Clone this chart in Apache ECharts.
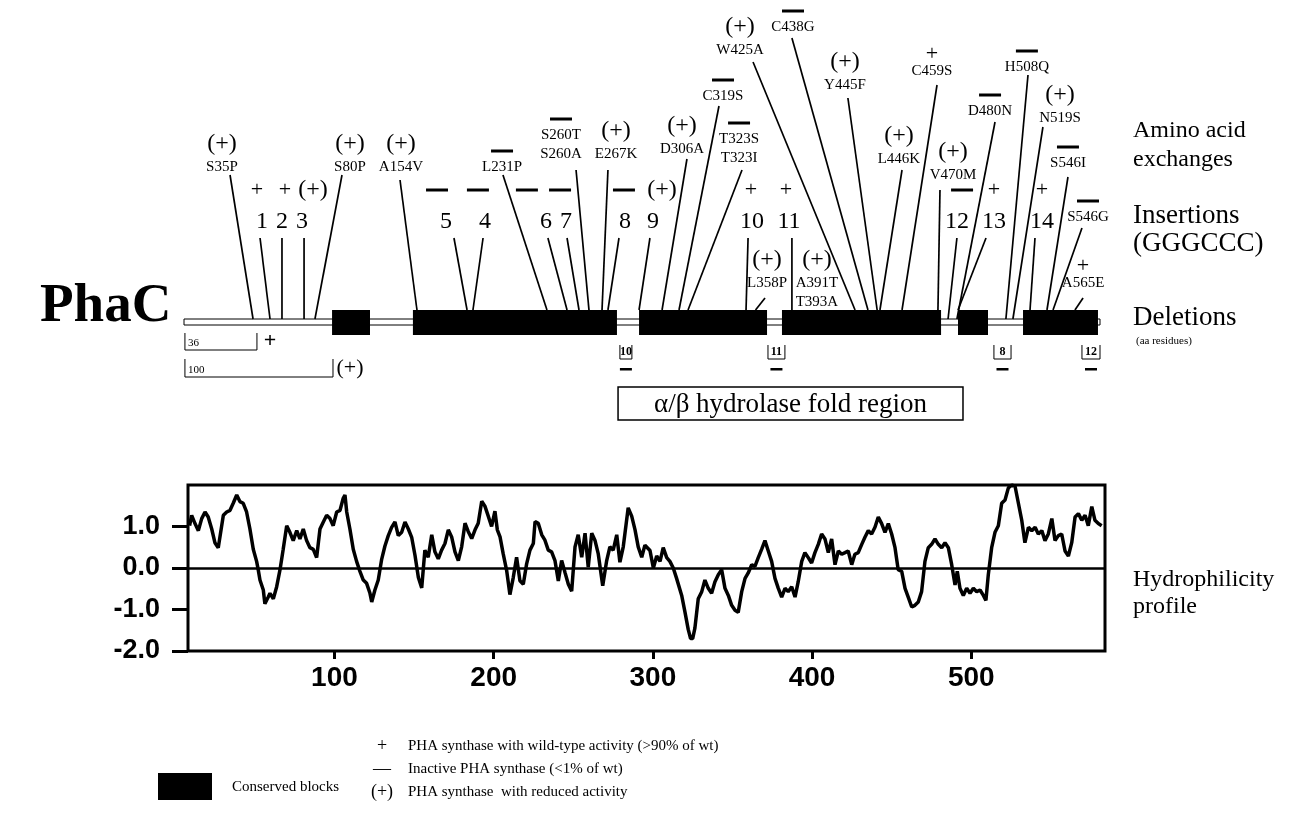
<!DOCTYPE html>
<html><head><meta charset="utf-8">
<script src="https://cdn.jsdelivr.net/npm/echarts@6/dist/echarts.min.js"></script>
<style>html,body{margin:0;padding:0;background:#fff}#c{width:1292px;height:832px}</style>
</head><body><div id="c"></div>
<script>
// ---------------- DATA ----------------
// Hydrophilicity profile (residue, value)
const profileRes = [9,10.3,12.4,14.5,16.6,18.7,20.7,22.9,24.9,27,28.1,30.2,32.3,34.4,36.4,38.6,40.6,42.7,44.8,46.9,49,51.1,52.1,53.2,55.3,56.3,58.4,59.5,61.6,63.7,65.8,67.8,70,72,74.1,76.3,78.3,80.4,82.5,84.6,86.7,88.8,90.9,93,95.1,97.2,99.2,101.4,103.5,105.5,106.6,107.7,109.7,111.8,113.9,116,118.1,120.2,122.3,123.4,125.4,127.5,129.6,131.7,133.8,135.9,138,140.1,142.2,144.3,146.4,148.5,150.6,152.7,154.8,156.8,158.9,161.1,163.1,165.2,167.3,169.4,171.5,173.6,175.7,177.8,179.9,182,184,186.2,188.3,190.3,192.5,194.5,196.6,198.7,200.8,202.3,204,206,208.2,210.2,212.3,214.4,216.5,218.6,220.7,222.8,224.9,226,228,230.2,232.2,234.3,236.4,238.5,240.6,242.7,244.8,246.9,249,251.1,253.1,255.3,257.4,259.4,261.6,263.6,265.7,268.5,271,273,275.1,277.3,279.3,281.4,284.5,286.7,288.8,290.8,293,295,298.2,300.3,302.4,304.5,306.5,308.7,310.7,312.8,314.9,318.1,320.2,322.2,323.7,325,326.4,328.5,330.7,332.7,334.8,336.9,339,341.1,343.2,345.3,347.4,349.5,351.6,353.6,355.8,357.9,359.9,362.1,364.1,366.2,368.3,370.4,372.5,374.6,376.7,378.8,380.9,383,385,387.2,389.3,391.3,393.5,395.5,397.6,399.7,401.8,403.9,406,408.1,410.2,412.3,414.4,416.5,418.6,420.7,422.7,424.9,426.9,429,431.2,433.2,435.3,437.4,439.5,441.6,443.7,445.8,447.9,450,452.1,454.1,456.3,458.4,460.4,462.6,464.6,466.7,468.8,470.9,473,475.1,477.2,479.3,481.4,483.5,485.6,487.7,489.8,491.2,492.9,495,497.1,499.2,501.3,503.4,505.5,507.6,509.2,510.7,512.8,514.9,517,519.1,521.2,523.3,525.4,527.5,529.6,531.7,533.7,535.9,538,540.1,542.1,544.3,546.3,548.4,550.6,552.6,554.7,556.8,558.9,561,563.1,565.2,567.3,569.4,571.5,573.5,575.7,577.7,579.8,581.9];
const profileVal = [1.02,1.27,1.07,0.9,1.19,1.35,1.23,0.94,0.61,0.49,0.53,1.27,1.35,1.39,1.56,1.76,1.6,1.56,1.35,0.94,0.45,0.16,-0.04,-0.29,-0.53,-0.86,-0.7,-0.61,-0.74,-0.45,-0.04,0.45,1.02,0.86,0.66,0.9,0.7,0.94,0.66,0.49,0.45,0.25,0.94,1.11,1.27,1.19,1.02,1.35,1.39,1.68,1.76,1.35,0.94,0.45,0.16,-0.08,-0.29,-0.37,-0.61,-0.82,-0.53,-0.29,0.2,0.53,0.78,0.98,1.11,0.78,0.86,1.11,0.94,0.74,0.3,-0.23,-0.48,0.43,0.26,0.8,0.39,0.22,0.43,0.59,0.92,0.75,0.39,0.18,0.51,1.08,0.88,0.71,0.92,1.08,1.61,1.49,1.25,1.0,1.37,0.92,0.75,0.34,-0.07,-0.64,-0.23,0.26,-0.31,-0.39,0.1,0.43,0.59,1.12,1.08,0.8,0.67,0.43,0.39,0.18,-0.31,0.18,-0.11,-0.39,-0.56,0.51,0.8,0.26,0.84,0.02,0.84,0.67,0.34,-0.43,0.18,0.51,0.43,0.8,0.14,0.51,1.45,1.25,0.92,0.51,0.26,0.55,0.42,0,0.29,0.16,0.49,0.25,0.16,0,-0.25,-0.66,-1.07,-1.48,-1.7,-1.7,-1.45,-0.74,-0.57,-0.29,-0.49,-0.61,-0.33,-0.16,-0.04,-0.49,-0.66,-0.9,-1.02,-1.07,-0.57,-0.25,-0.12,0.08,0.04,0.25,0.45,0.66,0.41,0.16,-0.25,-0.49,-0.7,-0.49,-0.57,-0.45,-0.7,-0.33,0.16,0.37,0.25,0.12,0.37,0.57,0.82,0.7,0.37,0.7,0.08,0.41,0.33,0.37,0.41,0.08,0.33,0.37,0.57,0.74,0.9,0.82,0.98,1.23,1.07,0.86,1.07,0.82,0.49,-0.04,-0.08,-0.49,-0.7,-0.94,-0.9,-0.82,-0.57,0.16,0.49,0.57,0.7,0.57,0.49,0.61,0.49,0.08,-0.41,-0.08,-0.49,-0.66,-0.49,-0.61,-0.49,-0.57,-0.53,-0.66,-0.78,-0.16,0.49,0.86,1.02,1.56,1.64,1.93,2.0,1.97,1.56,1.15,0.61,0.98,0.9,0.98,0.82,0.9,0.66,0.82,1.19,0.66,0.78,0.82,0.41,0.29,0.61,1.23,1.31,1.15,1.27,1.02,1.48,1.15,1.07,1.02];
const profileTicksX = [100, 200, 300, 400, 500];
const profileTicksY = [-2, -1, 0, 1];

// Gene map (map units along the PhaC schematic, 0..589)
const geneLength = 589;
const blockStart = [95.2, 147.2, 292.6, 384.5, 497.7, 539.5];
const blockEnd   = [119.6, 278.4, 374.9, 486.8, 517.0, 587.7];
const foldRegion = [279.1, 500.9];

// Amino acid exchanges
const aaNames    = ['S35P','S80P','A154V','L231P','S260T\nS260A','E267K','D306A','C319S','T323S\nT323I','L358P','A391T\nT393A','W425A','C438G','Y445F','C459S','L446K','V470M','D480N','H508Q','N519S','S546I','S546G','A565E'];
const aaActivity = ['(+)','(+)','(+)','—','—','(+)','(+)','—','—','(+)','(+)','(+)','—','(+)','+','(+)','(+)','—','—','(+)','—','—','+'];
const aaSite     = [44.4, 84.2, 149.8, 233.4, 260.4, 268.8, 307.4, 318.3, 324.1, 367.5, null, 431.5, 439.8, 445.7, 461.7, 447.5, 484.8, 497.0, 528.5, 533.0, 554.9, 558.8, 572.9];
const aaLabelX   = [24.4, 106.7, 139.5, 204.5, 242.4, 277.8, 320.2, 346.6, 356.9, 374.9, 407.0, 357.5, 391.6, 425.0, 481.0, 459.7, 494.5, 518.3, 542.0, 563.3, 568.4, 581.3, 578.1];
const aaLabelY   = [167, 167, 167, 167, 135, 154, 149, 96, 139, 283, 283, 50, 27, 85, 71, 159, 175, 111, 67, 118, 163, 217, 283];
const aaLineX    = [29.6, 101.6, 138.9, 205.1, 252.1, 272.6, 323.4, 344.0, 358.8, 373.6, null, 365.9, 390.9, 426.9, 484.2, 461.7, 486.1, 521.5, 542.7, 552.3, 568.4, 577.4, 578.1];
const aaLineY    = [175, 175, 180, 175, 170, 170, 159, 106, 170, 298, null, 62, 38, 98, 85, 170, 190, 122, 75, 127, 177, 228, 298];

// Insertions (GGGCCC)
const insNames    = ['1','2','3','5','4','6','7','8','9','10','11','12','13','14'];
const insActivity = ['+','+','(+)','—','—','—','—','—','(+)','+','+','—','+','+'];
const insSite     = [55.3, 63.0, 77.2, 182.0, 185.8, 246.3, 254.0, 272.6, 292.6, 361.4, 390.9, 491.3, 497.7, 544.0];
const insLabelX   = [50.2, 63.0, 75.9, 168.5, 193.5, 232.8, 245.6, 283.6, 301.6, 365.2, 389.0, 497.0, 520.8, 551.7];
const insSymX     = [46.9, 64.9, 82.9, 162.7, 189.0, 220.5, 241.8, 282.9, 307.4, 364.6, 387.1, 500.3, 520.8, 551.7];
const insLineX    = [48.9, 63.0, 77.2, 173.6, 192.3, 234.0, 246.3, 279.7, 299.6, 362.7, 390.9, 497.0, 515.7, 547.2];

// Deletions (aa residues)
const delNames    = ['10','11','8','12','36','100'];
const delActivity = ['—','—','—','—','+','(+)'];
const delFrom     = [280.3, 375.5, 520.8, 577.4, 0.6, 0.6];
const delTo       = [288.0, 386.4, 531.8, 589.0, 46.9, 95.8];

// Legend
const legendItems = [['+','PHA synthase with wild-type activity (>90% of wt)'],['—','Inactive PHA synthase (<1% of wt)'],['(+)','PHA synthase  with reduced activity']];

// ---------------- LAYOUT / STYLE ----------------
const SERIF = '"Liberation Serif","Times New Roman",serif';
const SANS = '"Liberation Sans",Arial,sans-serif';
const GENE_TOP = 310, GENE_BOT = 335, LINE_TOP = 319, LINE_BOT = 325;
function inBlock(u){ return blockStart.some((s,k)=> u >= s - 0.3 && u <= blockEnd[k] + 0.3); }
function siteY(u){ return inBlock(u) ? GENE_TOP : LINE_TOP; }
function symbolEl(kind, x, y, dash){
  if (kind === '—') return {type:'rect', shape:{x:x-dash/2, y:y-1.5, width:dash, height:3}, style:{fill:'#000'}};
  return {type:'text', x:x, y:y, style:{text:kind, fontFamily:SERIF, fontSize: kind === '+' ? 22 : 24, fill:'#000', align:'center', verticalAlign:'middle'}};
}
function txt(t, x, y, size, opt){
  return Object.assign({type:'text', x:x, y:y, style:{text:t, fontFamily:SERIF, fontSize:size, fill:'#000', align:'left', verticalAlign:'middle'}}, opt||{});
}

const chart = echarts.init(document.getElementById('c'), null, {renderer:'canvas'});

const graphics = [
  {type:'text', x:40, y:307, style:{text:'PhaC', fontFamily:SERIF, fontWeight:'bold', fontSize:55, fill:'#000', align:'left', verticalAlign:'middle'}},
  txt('Amino acid', 1133, 131, 24), txt('exchanges', 1133, 160, 24),
  txt('Insertions', 1133, 216, 27), txt('(GGGCCC)', 1133, 244, 27),
  txt('Deletions', 1133, 318, 27), txt('(aa residues)', 1136, 341, 11),
  txt('Hydrophilicity', 1133, 580, 24), txt('profile', 1133, 607, 24),
  {type:'rect', shape:{x:158, y:773, width:54, height:27}, style:{fill:'#000'}},
  txt('Conserved blocks', 232, 787, 15)
];
legendItems.forEach((it, k) => {
  const y = 746 + k * 23;
  graphics.push({type:'text', x:382, y:y, style:{text:it[0], fontFamily:SERIF, fontSize:18, fill:'#000', align:'center', verticalAlign:'middle'}});
  graphics.push(txt(it[1], 408, y, 15));
});

const option = {
  animation: false,
  backgroundColor: '#fff',
  graphic: graphics,
  grid: [
    {left:188, right:187, top:485, bottom:181, show:true, borderColor:'#000', borderWidth:3, backgroundColor:'transparent'},
    {left:184, width:916, top:0, height:420, show:false}
  ],
  xAxis: [
    {type:'value', gridIndex:0, min:8, max:584, axisLine:{show:false, onZero:false}, splitLine:{show:false},
     axisTick:{show:true, customValues:profileTicksX, length:8, lineStyle:{color:'#000', width:3}},
     axisLabel:{customValues:profileTicksX, color:'#000', fontFamily:SANS, fontWeight:'bold', fontSize:28, margin:13}},
    {type:'value', gridIndex:1, min:0, max:geneLength, show:false}
  ],
  yAxis: [
    {type:'value', gridIndex:0, min:-2, max:2, axisLine:{show:false, onZero:false}, splitLine:{show:false},
     axisTick:{show:true, customValues:profileTicksY, length:16, lineStyle:{color:'#000', width:3}},
     axisLabel:{customValues:profileTicksY, formatter:v => Number(v).toFixed(1), color:'#000', fontFamily:SANS, fontWeight:'bold', fontSize:27, margin:28}},
    {type:'value', gridIndex:1, min:0, max:420, inverse:true, show:false}
  ],
  series: [
    {type:'line', xAxisIndex:0, yAxisIndex:0, data: profileRes.map((r,i)=>[r, profileVal[i]]),
     showSymbol:false, lineStyle:{color:'#000', width:3.5}, silent:true,
     markLine:{silent:true, symbol:['none','none'], label:{show:false}, lineStyle:{color:'#000', width:2.5, type:'solid'}, data:[{yAxis:0}]}},
    // gene line
    {type:'custom', xAxisIndex:1, yAxisIndex:1, data:[[0, geneLength]], silent:true,
     renderItem:(p, api) => { const a = api.coord([api.value(0), LINE_TOP]); const b = api.coord([api.value(1), LINE_BOT]);
       return {type:'rect', shape:{x:a[0], y:a[1], width:b[0]-a[0], height:b[1]-a[1]}, style:{fill:'#fff', stroke:'#000', lineWidth:1}}; }},
    // conserved blocks
    {type:'custom', xAxisIndex:1, yAxisIndex:1, data: blockStart.map((s,k)=>[s, blockEnd[k]]), silent:true,
     renderItem:(p, api) => { const a = api.coord([api.value(0), GENE_TOP]); const b = api.coord([api.value(1), GENE_BOT]);
       return {type:'rect', shape:{x:a[0], y:a[1], width:b[0]-a[0], height:b[1]-a[1]}, style:{fill:'#000'}}; }},
    // fold region box
    {type:'custom', xAxisIndex:1, yAxisIndex:1, data:[foldRegion], silent:true,
     renderItem:(p, api) => { const a = api.coord([api.value(0), 387]); const b = api.coord([api.value(1), 420]);
       return {type:'group', children:[
         {type:'rect', shape:{x:a[0], y:a[1], width:b[0]-a[0], height:b[1]-a[1]}, style:{fill:'#fff', stroke:'#000', lineWidth:1.5}},
         {type:'text', x:(a[0]+b[0])/2, y:(a[1]+b[1])/2+1, style:{text:'α/β hydrolase fold region', fontFamily:SERIF, fontSize:27, fill:'#000', align:'center', verticalAlign:'middle'}}]}; }},
    // amino acid exchanges
    {type:'custom', xAxisIndex:1, yAxisIndex:1, silent:true, data: aaLabelX.map((x,i)=>[x, aaLabelY[i]]),
     renderItem:(p, api) => {
       const i = p.dataIndex; const lbl = api.coord([api.value(0), api.value(1)]);
       const kids = [];
       aaNames[i].split('\n').forEach((t,k) => kids.push({type:'text', x:lbl[0], y:lbl[1]+k*19, style:{text:t, fontFamily:SERIF, fontSize:15, fill:'#000', align:'center', verticalAlign:'middle'}}));
       const off = aaActivity[i] === '(+)' ? 23 : (aaActivity[i] === '+' ? 17 : 16);
       kids.push(symbolEl(aaActivity[i], lbl[0], lbl[1]-off, 22));
       if (aaLineX[i] != null) {
         const a = api.coord([aaLineX[i], aaLineY[i]]); const b = api.coord([aaSite[i], siteY(aaSite[i])]);
         kids.push({type:'line', shape:{x1:a[0], y1:a[1], x2:b[0], y2:b[1]}, style:{stroke:'#000', lineWidth:1.7}});
       }
       return {type:'group', children:kids};
     }},
    // insertions
    {type:'custom', xAxisIndex:1, yAxisIndex:1, silent:true, data: insLabelX.map((x,i)=>[x, 222]),
     renderItem:(p, api) => {
       const i = p.dataIndex; const lbl = api.coord([api.value(0), api.value(1)]);
       const sym = api.coord([insSymX[i], 190]);
       const a = api.coord([insLineX[i], 238]); const b = api.coord([insSite[i], siteY(insSite[i])]);
       return {type:'group', children:[
         {type:'text', x:lbl[0], y:lbl[1], style:{text:insNames[i], fontFamily:SERIF, fontSize:24, fill:'#000', align:'center', verticalAlign:'middle'}},
         symbolEl(insActivity[i], sym[0], sym[1], 22),
         {type:'line', shape:{x1:a[0], y1:a[1], x2:b[0], y2:b[1]}, style:{stroke:'#000', lineWidth:1.7}}]};
     }},
    // deletions
    {type:'custom', xAxisIndex:1, yAxisIndex:1, silent:true, data: delFrom.map((f,i)=>[f, delTo[i]]),
     renderItem:(p, api) => {
       const i = p.dataIndex; const short = (delTo[i] - delFrom[i]) < 20;
       const top = short ? 345 : (i === 4 ? 333 : 359), bot = short ? 359 : (i === 4 ? 350 : 377);
       const a = api.coord([api.value(0), top]); const b = api.coord([api.value(1), bot]);
       const kids = [{type:'polyline', shape:{points:[[a[0], a[1]], [a[0], b[1]], [b[0], b[1]], [b[0], a[1]]]}, style:{stroke:'#000', lineWidth:1, fill:null}}];
       if (short) {
         kids.push({type:'text', x:(a[0]+b[0])/2, y:(a[1]+b[1])/2, style:{text:delNames[i], fontFamily:SERIF, fontWeight:'bold', fontSize:12, fill:'#000', align:'center', verticalAlign:'middle'}});
         kids.push({type:'rect', shape:{x:(a[0]+b[0])/2-6, y:bot+9, width:12, height:2.5}, style:{fill:'#000'}});
       } else {
         kids.push({type:'text', x:a[0]+3, y:b[1]-7, style:{text:delNames[i], fontFamily:SERIF, fontSize:11, fill:'#000', align:'left', verticalAlign:'middle'}});
         kids.push({type:'text', x:b[0]+(delActivity[i] === '+' ? 13 : 17), y:(a[1]+b[1])/2, style:{text:delActivity[i], fontFamily:SERIF, fontWeight: delActivity[i] === '+' ? 'bold' : 'normal', fontSize:22, fill:'#000', align:'center', verticalAlign:'middle'}});
       }
       return {type:'group', children:kids};
     }}
  ]
};
chart.setOption(option);
</script></body></html>
